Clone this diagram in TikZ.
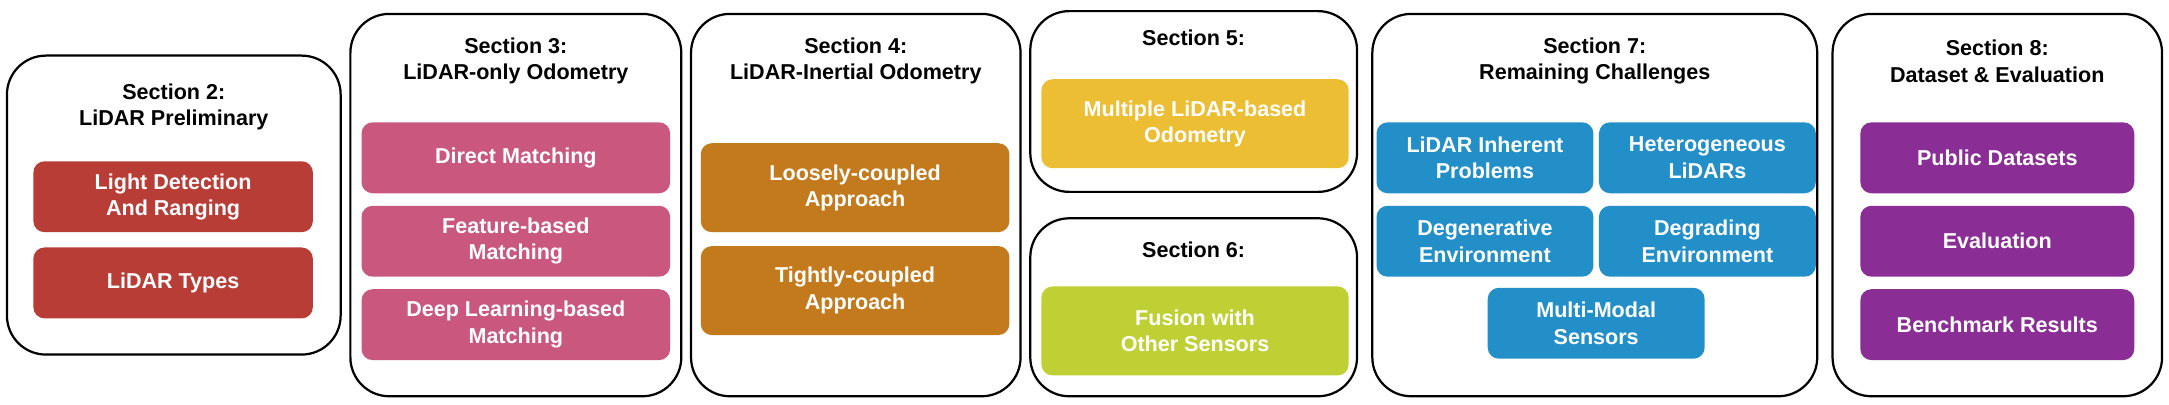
\documentclass[tikz,border=0pt]{standalone}
\usepackage{fontspec}
\setmainfont{Liberation Sans}
\definecolor{cred}{HTML}{B83D37}
\definecolor{cpink}{HTML}{C9577E}
\definecolor{corange}{HTML}{C27A1C}
\definecolor{cyellow}{HTML}{ECBE33}
\definecolor{cgreen}{HTML}{BFD035}
\definecolor{cblue}{HTML}{228FC8}
\definecolor{cpurple}{HTML}{8A2E96}
\begin{document}
\begin{tikzpicture}[x=1pt,y=1pt,
  sec/.style={draw=black,line width=1.6pt,rounded corners=28pt,inner sep=0pt},
  item/.style={rounded corners=8pt,text=white,align=center,inner sep=0pt,
    font=\fontsize{15.5}{19}\selectfont\bfseries},
  title/.style={align=center,font=\fontsize{15.5}{19}\selectfont\bfseries}]
\useasboundingbox (0,0) rectangle (1560,-291);
% outer boxes
\node[sec,minimum width=240,minimum height=215] (s2) at (125,-147.5) {};
\node[sec,minimum width=238,minimum height=275] (s3) at (371,-147.5) {};
\node[sec,minimum width=237,minimum height=275] (s4) at (615.5,-147.5) {};
\node[sec,minimum width=235,minimum height=130] (s5) at (858.5,-73) {};
\node[sec,minimum width=235,minimum height=128] (s6) at (858.5,-221) {};
\node[sec,minimum width=320,minimum height=275] (s7) at (1147,-147.5) {};
\node[sec,minimum width=237,minimum height=275] (s8) at (1436.5,-147.5) {};
% titles
\node[title] (t2) at (125,-77) {Section 2:\\LiDAR Preliminary};
\node[title] (t3) at (371,-44) {Section 3:\\LiDAR-only Odometry};
\node[title] (t4) at (615.5,-44) {Section 4:\\LiDAR-Inertial Odometry};
\node[title] (t5) at (858.5,-27) {Section 5:};
\node[title] (t6) at (858.5,-180) {Section 6:};
\node[title] (t7) at (1147,-44) {Section 7:\\Remaining Challenges};
\node[title] (t8) at (1436.5,-44) {Section 8:\\Dataset \& Evaluation};
% section 2
\node[item,fill=cred,minimum width=201,minimum height=51] (a1) at (124.5,-141.5) {Light Detection\\And Ranging};
\node[item,fill=cred,minimum width=201,minimum height=51] (a2) at (124.5,-203.5) {LiDAR Types};
% section 3
\node[item,fill=cpink,minimum width=222,minimum height=51] (b1) at (371,-113.5) {Direct Matching};
\node[item,fill=cpink,minimum width=222,minimum height=51] (b2) at (371,-173.5) {Feature-based\\Matching};
\node[item,fill=cpink,minimum width=222,minimum height=51] (b3) at (371,-233.5) {Deep Learning-based\\Matching};
% section 4
\node[item,fill=corange,minimum width=222,minimum height=64] (c1) at (615,-135) {Loosely-coupled\\Approach};
\node[item,fill=corange,minimum width=222,minimum height=64] (c2) at (615,-209) {Tightly-coupled\\Approach};
% section 5,6
\node[item,fill=cyellow,minimum width=221,minimum height=64] (d1) at (859.5,-89) {Multiple LiDAR-based\\Odometry};
\node[item,fill=cgreen,minimum width=221,minimum height=64] (e1) at (859.5,-238) {Fusion with\\Other Sensors};
% section 7
\node[item,fill=cblue,minimum width=156,minimum height=51] (f1) at (1068,-113.5) {LiDAR Inherent\\Problems};
\node[item,fill=cblue,minimum width=156,minimum height=51] (f2) at (1228,-113.5) {Heterogeneous\\LiDARs};
\node[item,fill=cblue,minimum width=156,minimum height=51] (f3) at (1068,-173.5) {Degenerative\\Environment};
\node[item,fill=cblue,minimum width=156,minimum height=51] (f4) at (1228,-173.5) {Degrading\\Environment};
\node[item,fill=cblue,minimum width=156,minimum height=51] (f5) at (1148,-232.5) {Multi-Modal\\Sensors};
% section 8
\node[item,fill=cpurple,minimum width=197,minimum height=51] (g1) at (1436.5,-113.5) {Public Datasets};
\node[item,fill=cpurple,minimum width=197,minimum height=51] (g2) at (1436.5,-173.5) {Evaluation};
\node[item,fill=cpurple,minimum width=197,minimum height=51] (g3) at (1436.5,-233.5) {Benchmark Results};
\end{tikzpicture}
\end{document}
